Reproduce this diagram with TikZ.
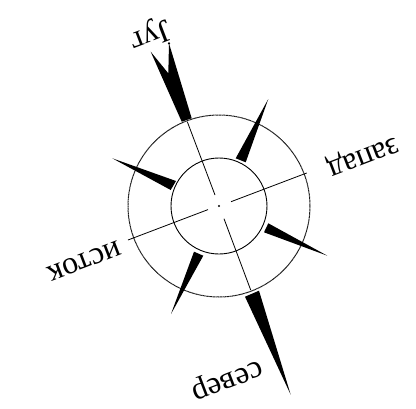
\documentclass[tikz,border=0pt]{standalone}
\usepackage{fontspec}
\setmainfont{Liberation Serif}
\tikzset{
  needle/.style={fill=black,draw=none},
  axisline/.style={draw=black,line width=0.8pt},
  label/.style={font=\fontsize{32}{32}\selectfont,rotate=201,inner sep=0pt}
}
\begin{document}
\begin{tikzpicture}[x=1pt,y=-1pt]
\useasboundingbox (0,0) rectangle (416,408);
\coordinate (c) at (219,206);
\draw[line width=1pt,black!90,dash pattern=on 1pt off 0.4pt] (c) circle (91);
\draw[line width=0.9pt] (c) circle (48);
\fill (c) circle (1.2);
\draw[axisline] (187.3,121.7) -- (215,195);
\draw[axisline] (224,218.7) -- (250.7,290);
\draw[axisline] (231,201.7) -- (306.7,173);
\draw[axisline] (128,240) -- (208,209.6);
\fill[needle] (181.7,121.7) -- (150.7,51.7) -- (168.3,73.3) -- (169,43.3) -- (191.7,118.3) -- cycle;
\fill (169,43.3) circle (1.2);
\fill[needle] (245,296.7) -- (290.7,394.7) -- (259,290.7) -- cycle;
\fill[needle] (235.7,158.3) -- (268.3,99) -- (245.7,162.3) -- cycle;
\fill[needle] (176,181) -- (112.3,158.3) -- (170.7,190) -- cycle;
\fill[needle] (268.3,223.3) -- (327.3,255.7) -- (264,232.3) -- cycle;
\fill[needle] (194,251.7) -- (171,314) -- (203.3,255.7) -- cycle;
\node[label] (s) at (150,34) {Југ};
\node[label] (n) at (226.7,378) {север};
\node[label] (e) at (84,261) {исток};
\node[label] (w) at (362.5,154.5) {запад};
\end{tikzpicture}
\end{document}
